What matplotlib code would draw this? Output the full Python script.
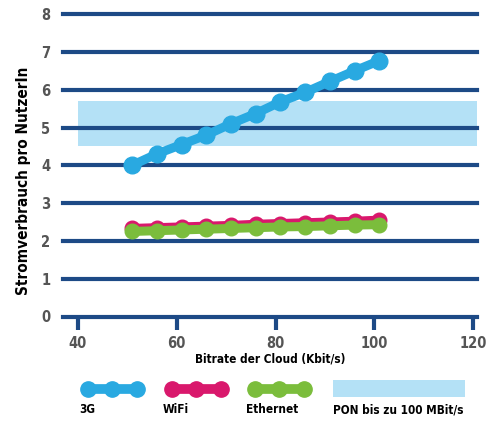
import matplotlib.pyplot as plt
from matplotlib.patches import Rectangle

plt.rcParams['font.family'] = ['DejaVu Sans']
plt.rcParams['font.stretch'] = 'condensed'

# data
bitrate = [51, 56, 61, 66, 71, 76, 81, 86, 91, 96, 101]
g3 = [4.0, 4.3, 4.55, 4.8, 5.1, 5.37, 5.68, 5.93, 6.22, 6.5, 6.77]
wifi = [2.33, 2.35, 2.37, 2.39, 2.41, 2.44, 2.46, 2.48, 2.5, 2.52, 2.55]
ethernet = [2.25, 2.27, 2.29, 2.31, 2.33, 2.35, 2.37, 2.38, 2.4, 2.42, 2.43]
pon_band = (4.5, 5.7)
pon_x = (40, 120.7)
xticks = [40, 60, 80, 100, 120]
yticks = [0, 1, 2, 3, 4, 5, 6, 7, 8]
series = ['3G', 'WiFi', 'Ethernet']
pon_label = 'PON bis zu 100 MBit/s'

navy = '#1d4a86'
blue = '#29a9e1'
pink = '#d9186c'
green = '#7bbd3c'
band = '#b4e1f6'

fig = plt.figure(figsize=(5.03, 4.22), dpi=100)
ax = fig.add_axes([0.125, 0.25, 0.823, 0.73])
ax.set_xlim(37, 120.7)
ax.set_ylim(0, 8.15)

for y in yticks:
    ax.axhline(y, color=navy, lw=3, zorder=1, clip_on=False)

ax.fill_between(pon_x, pon_band[0], pon_band[1], color=band, lw=0, zorder=0.5)

ax.plot(bitrate, ethernet, color=green, lw=6.5, marker='o', ms=10.5, zorder=3,
        solid_capstyle='round')
ax.plot(bitrate, wifi, color=pink, lw=6.5, marker='o', ms=10.5, zorder=2.5,
        solid_capstyle='round')
ax.plot(bitrate, g3, color=blue, lw=6.5, marker='o', ms=12, zorder=3,
        solid_capstyle='round')

for s in ax.spines.values():
    s.set_visible(False)
ax.set_xticks(xticks)
ax.set_yticks(yticks)
ax.tick_params(axis='x', direction='out', length=9, width=3, color=navy,
               labelsize=10.5, labelcolor='#555555', pad=5)
ax.tick_params(axis='y', length=0, labelsize=10.5, labelcolor='#555555', pad=9)
for lab in ax.get_xticklabels() + ax.get_yticklabels():
    lab.set_fontweight('bold')

ax.set_xlabel('Bitrate der Cloud (Kbit/s)', fontsize=8.5, fontweight='bold',
              labelpad=1)
ax.set_ylabel('Stromverbrauch pro NutzerIn', fontsize=11, fontweight='bold')
ax.yaxis.set_label_coords(-0.077, 0.44)

# legend: sample line above each label
lg = fig.add_axes([0, 0, 1, 0.14])
lg.set_xlim(0, 503)
lg.set_ylim(0, 59)
lg.axis('off')
colors = [blue, pink, green]
starts = [88, 172, 255]
for name, c, x0 in zip(series, colors, starts):
    lg.plot([x0, x0 + 24.5, x0 + 49], [33, 33, 33], color=c, lw=7, marker='o',
            ms=11, solid_capstyle='round')
    lg.text(x0 - 9, 12, name, fontsize=8.5, fontweight='bold', va='center')
lg.add_patch(Rectangle((333, 25), 132, 17, color=band, lw=0))
lg.text(333, 12, pon_label, fontsize=8.5, fontweight='bold', va='center')

fig.savefig('out.png', dpi=100)
